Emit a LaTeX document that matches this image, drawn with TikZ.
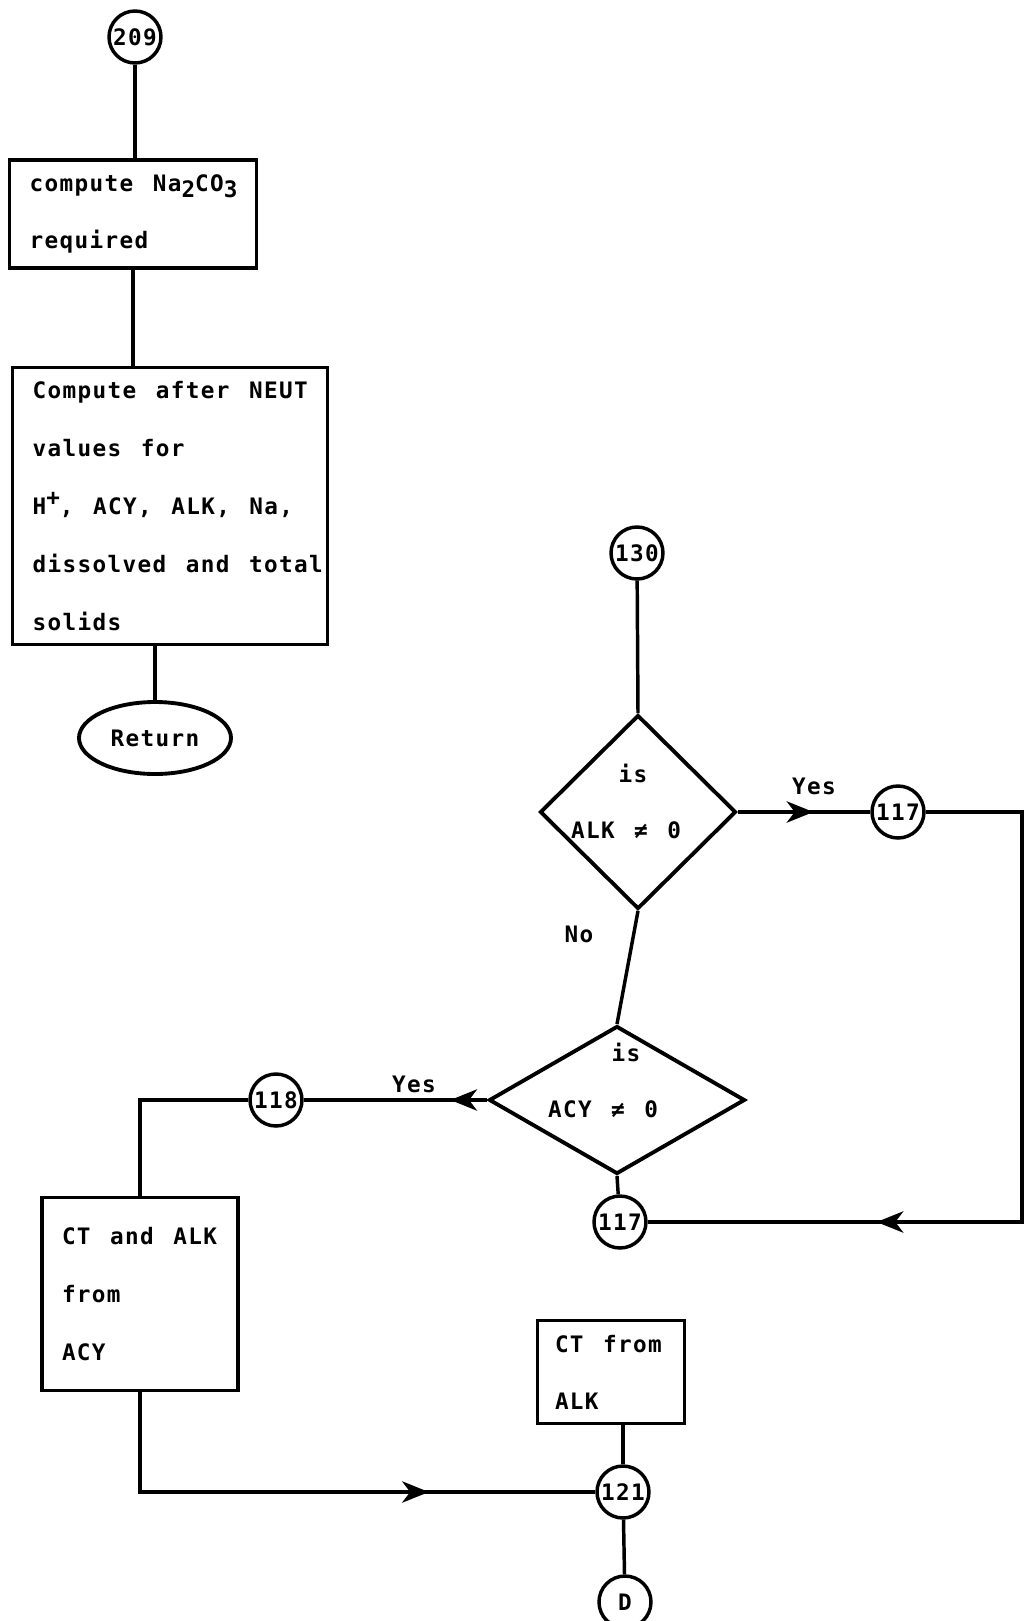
\documentclass[tikz,border=0pt]{standalone}
\usepackage{fontspec}
\setmainfont{DejaVu Sans Mono}[LetterSpace=6, WordSpace={1.3,0,0}]
\usetikzlibrary{shapes.geometric,arrows.meta,positioning,decorations.markings}

\newcommand{\lowsub}[1]{\raisebox{-0.5ex}{#1}}
\newcommand{\highsup}[1]{\raisebox{0.75ex}{#1}}

\tikzset{
  flowline/.style={line width=2.6pt},
  flowbox/.style={draw, line width=2.9pt, align=flush left, inner ysep=0pt,
    font=\fontsize{17pt}{#1}\selectfont\bfseries},
  onpage/.style={circle, draw, line width=2.6pt, minimum size=39pt, inner sep=0pt,
    font=\fontsize{17pt}{20pt}\selectfont\bfseries},
  decision/.style={diamond, draw, line width=2.9pt, inner sep=0pt},
  lbl/.style={inner sep=0pt, font=\fontsize{17pt}{20pt}\selectfont\bfseries},
  flowarrow/.style={postaction={decorate},
    decoration={markings, mark=at position #1 with {\arrow{Stealth[length=20pt,width=16pt,inset=6pt]}}}}
}

\begin{document}
\begin{tikzpicture}[x=0.75pt,y=0.75pt,yscale=-1,xscale=1]
    \useasboundingbox (0,0) rectangle (1026,1621);

    %Shape: Circle [id:209]
    \node [onpage] (n209) at (135,37) {209};
    % Text Node
    \node [flowbox=42.75pt, minimum width=185.25pt, minimum height=81pt, text width=155pt, inner xsep=15pt] (box1) at (133,214)
      {\mbox{compute Na\lowsub{2}CO\lowsub{3}}\\required};
    % Text Node
    \node [flowbox=43.5pt, minimum width=236.25pt, minimum height=207.75pt, text width=206pt, inner xsep=15pt] (box2) at (170,506)
      {\mbox{Compute after NEUT}\\values for\\\mbox{H\highsup{+}, ACY, ALK, Na,}\\\mbox{dissolved and total}\\solids};
    %Shape: Ellipse [id:return]
    \node [ellipse, draw, line width=2.9pt, minimum width=114pt, minimum height=54pt, lbl] (ret) at (155,738) {Return};

    %Shape: Circle [id:130]
    \node [onpage] (n130) at (637,553) {130};
    %Shape: Diamond [id:alk]
    \node [decision, minimum width=147pt, minimum height=145.5pt] (dec1) at (638,812) {};
    \node [lbl] (dec1is) at (633,773) {is};
    \node [lbl] (dec1txt) at (626,830) {ALK ≠ 0};
    %Shape: Circle [id:117a]
    \node [onpage] (n117a) at (898,812) {117};
    \coordinate (rtop) at (1022,812);
    \coordinate (rbot) at (1022,1222);

    %Shape: Diamond [id:acy]
    \node [decision, minimum width=192pt, minimum height=111pt] (dec2) at (617,1100) {};
    \node [lbl] (dec2is) at (626,1052) {is};
    \node [lbl] (dec2txt) at (603,1109) {ACY ≠ 0};
    %Shape: Circle [id:117b]
    \node [onpage] (n117b) at (620,1222) {117};
    %Shape: Circle [id:118]
    \node [onpage] (n118) at (276,1100) {118};

    % Text Node
    \node [flowbox=43.5pt, minimum width=147pt, minimum height=144.75pt, text width=117pt, inner xsep=15pt] (box3) at (140,1294)
      {\mbox{CT and ALK}\\from\\ACY};
    % Text Node
    \node [flowbox=42.75pt, minimum width=110.25pt, minimum height=77.25pt, text width=84pt, inner xsep=13pt] (box4) at (611,1372)
      {\mbox{CT from}\\ALK};
    %Shape: Circle [id:121]
    \node [onpage] (n121) at (623,1492) {121};
    %Shape: Circle [id:D]
    \node [onpage] (nD) at (625,1602) {D};

    % Labels
    \node [lbl] (yes1) at (814,786) {Yes};
    \node [lbl] (no1) at (579,934) {No};
    \node [lbl] (yes2) at (414,1084) {Yes};

    % Connectors
    \draw [flowline] (n209) -- (n209 |- box1.north);
    \draw [flowline] (box1.south) -- (box1.south |- box2.north);
    \draw [flowline] (ret) -- (ret |- box2.south);
    \draw [flowline] (n130) -- (dec1.north);
    \draw [flowline, flowarrow=0.57] (dec1.east) -- (n117a);
    \draw [flowline, flowarrow=0.74] (n117a) -- (rtop) -- (rbot) -- (n117b);
    \draw [flowline] (dec1.south) -- (dec2.north);
    \draw [flowline] (dec2.south) -- (n117b);
    \draw [flowline, flowarrow=0.2] (dec2.west) -- (n118);
    \draw [flowline] (n118) -| (box3.north);
    \draw [flowline, flowarrow=0.7] (box3.south) |- (n121);
    \draw [flowline] (n121 |- box4.south) -- (n121);
    \draw [flowline] (n121) -- (nD);

\end{tikzpicture}
\end{document}
